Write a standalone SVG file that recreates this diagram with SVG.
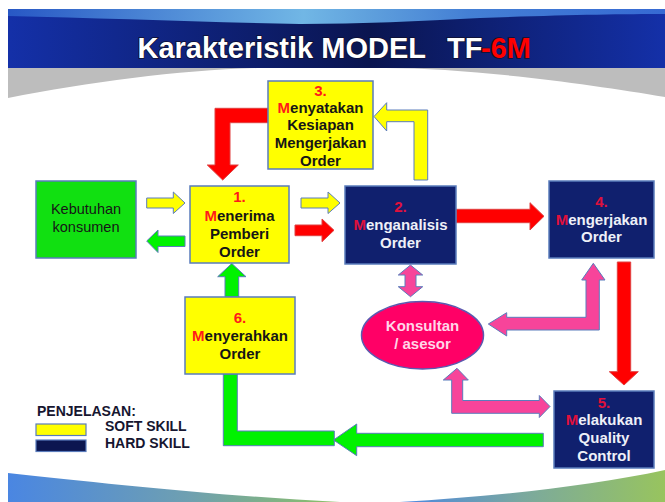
<svg xmlns="http://www.w3.org/2000/svg" width="665" height="502" viewBox="0 0 665 502">
<defs>
<linearGradient id="band" x1="0" y1="0" x2="1" y2="0">
<stop offset="0" stop-color="#1430a8"/><stop offset="0.55" stop-color="#0a1550"/><stop offset="1" stop-color="#1430a8"/>
</linearGradient>
<linearGradient id="sweep" x1="0" y1="0" x2="1" y2="0">
<stop offset="0" stop-color="#2a5cc8"/><stop offset="0.45" stop-color="#7cc8f4"/><stop offset="0.7" stop-color="#4a8ae0"/><stop offset="1" stop-color="#3a70d8"/>
</linearGradient>
<linearGradient id="botL" x1="8" y1="0" x2="340" y2="0" gradientUnits="userSpaceOnUse">
<stop offset="0" stop-color="#4a86e2"/><stop offset="0.55" stop-color="#6fa0b0"/><stop offset="1" stop-color="#8cc064"/>
</linearGradient>
<linearGradient id="botR" x1="400" y1="0" x2="665" y2="0" gradientUnits="userSpaceOnUse">
<stop offset="0" stop-color="#4a86e2"/><stop offset="0.45" stop-color="#7aa8a0"/><stop offset="1" stop-color="#98c45e"/>
</linearGradient>
<style>
.box{stroke:#5a7cbc;stroke-width:1.5}
.soft{fill:#ffff00}
.hard{fill:#10206e}
.t{font-family:"Liberation Sans",Arial,sans-serif;font-weight:bold;font-size:15px;text-anchor:middle}
.ttl{font-family:"Liberation Sans",Arial,sans-serif;font-weight:bold;font-size:29px;stroke:#101030;stroke-width:1.6px;paint-order:stroke}
.dk{fill:#161616}
.wt{fill:#eef0f8}
.rd{fill:#ff1a1a}
.cr{fill:#e0103c}
.ar{stroke:#5a7cbc;stroke-width:1;stroke-linejoin:miter}
.y{fill:#ffff00}
.g{fill:#00f200}
.r{fill:#ff0000;stroke:#e04040}
.p{fill:#f7449a}
.lg{font-family:"Liberation Sans",Arial,sans-serif;font-weight:bold;font-size:14px;fill:#161630}
</style>
</defs>
<rect width="665" height="502" fill="#ffffff"/>
<!-- title band -->
<rect x="8" y="9" width="657" height="59" fill="url(#band)"/>
<path d="M8,9 H665 V14 C620,14 560,15 480,18 C420,21 360,24 300,24 C200,22 100,18 8,16 Z" fill="url(#sweep)" opacity="0.9"/>
<path d="M8,68 H665 V97 C590,84 470,68 385,68 H260 C180,70 90,82 8,98 Z" fill="#bdbdbd"/>
<text class="ttl" x="137.5" y="58" fill="#ffffff">Karakteristik MODEL</text>
<text class="ttl" x="447" y="58" fill="#ffffff">TF</text>
<text class="ttl" x="481" y="58" fill="#ff0000">-6M</text>
<!-- bottom sweeps -->
<path d="M8,473 C100,483 220,496 340,502 H8 Z" fill="url(#botL)"/>
<path d="M400,502 C500,496 590,486 665,470 V502 Z" fill="url(#botR)"/>

<!-- connectors -->
<g id="connectors">
<polygon class="ar y" points="146.7,198 173.3,198 173.3,192 185,203 173.3,213.5 173.3,208 146.7,208"/>
<polygon class="ar g" points="185,236 158,236 158,230 146.7,241 158,252.5 158,246.5 185,246.5"/>
<polygon class="ar y" points="301,198 328,198 328,192 340,203 328,213.5 328,208 301,208"/>
<polygon class="ar r" points="295,225 322,225 322,219 334,230.3 322,241.7 322,235.7 295,235.7"/>
<polygon class="ar r" points="456,209.3 530,209.3 530,202.7 544,216.3 530,230 530,222.7 456,222.7"/>
<polygon class="ar r" points="268,108.3 215,108.3 215,165 207.3,165 222.7,180 238.3,165 230,165 230,122.7 268,122.7"/>
<polygon class="ar y" points="414,180 414,121.7 386.7,121.7 386.7,131 374,116.5 386.7,102.7 386.7,110 427.7,110 427.7,180"/>
<polygon class="ar g" points="225,296.7 225,276.7 217.7,276.7 231.8,263.5 246,276.7 238.7,276.7 238.7,296.7"/>
<polygon class="ar g" points="237.3,374 237.3,431 334.3,431 334.3,445.7 223.3,445.7 223.3,374"/>
<polygon class="ar g" points="543.3,433.3 356.7,433.3 356.7,424 333.5,440 356.7,455.7 356.7,446.7 543.3,446.7"/>
<polygon class="ar r" points="617.3,262 630.7,262 630.7,371.7 638.3,371.7 624,385 609.3,371.7 617.3,371.7"/>
<polygon class="ar p" points="410.5,265 422.7,275 416,275 416,286.7 422.7,286.7 410.5,296.7 398.3,286.7 405,286.7 405,275 398.3,275"/>
<polygon class="ar p" points="488.3,324 506.7,312.7 506.7,317.3 586,317.3 586,280 581.7,280 593.3,263.3 605,280 599.3,280 599.3,330 506.7,330 506.7,336"/>
<polygon class="ar p" points="457,368.3 468.3,380 462.7,380 462.7,400.5 539.3,400.5 539.3,395.5 550,406.5 539.3,417.5 539.3,413.3 451.7,413.3 451.7,380 443.3,380"/>
</g>

<!-- nodes -->
<g id="kebutuhan">
<rect class="box" x="36" y="181" width="100" height="77" fill="#11e011"/>
<text class="t dk" x="86" y="214" style="font-weight:normal;font-size:14.5px">Kebutuhan</text>
<text class="t dk" x="86" y="232" style="font-weight:normal;font-size:14.5px">konsumen</text>
</g>
<g id="node1">
<rect class="box soft" x="190" y="186" width="99" height="77"/>
<text class="t rd" x="239.5" y="202">1.</text>
<text class="t dk" x="239.5" y="221"><tspan class="rd">M</tspan>enerima</text>
<text class="t dk" x="239.5" y="238.5">Pemberi</text>
<text class="t dk" x="239.5" y="256.5">Order</text>
</g>
<g id="node3">
<rect class="box soft" x="268" y="81" width="105" height="88"/>
<text class="t rd" x="320.5" y="96">3.</text>
<text class="t dk" x="320.5" y="112.5"><tspan class="rd">M</tspan>enyatakan</text>
<text class="t dk" x="320.5" y="130">Kesiapan</text>
<text class="t dk" x="320.5" y="148">Mengerjakan</text>
<text class="t dk" x="320.5" y="166">Order</text>
</g>
<g id="node2">
<rect class="box hard" x="345" y="186" width="111" height="78"/>
<text class="t cr" x="400.5" y="212">2.</text>
<text class="t wt" x="400.5" y="229.5"><tspan class="cr">M</tspan>enganalisis</text>
<text class="t wt" x="400.5" y="247.5">Order</text>
</g>
<g id="node4">
<rect class="box hard" x="549" y="181" width="105" height="77"/>
<text class="t cr" x="601.5" y="207">4.</text>
<text class="t wt" x="601.5" y="224.5"><tspan class="cr">M</tspan>engerjakan</text>
<text class="t wt" x="601.5" y="242">Order</text>
</g>
<g id="node6">
<rect class="box soft" x="185" y="297" width="110" height="77"/>
<text class="t rd" x="240" y="323">6.</text>
<text class="t dk" x="240" y="341"><tspan class="rd">M</tspan>enyerahkan</text>
<text class="t dk" x="240" y="358.5">Order</text>
</g>
<g id="node5">
<rect class="box hard" x="554" y="391" width="100" height="77"/>
<text class="t cr" x="604" y="407.5">5.</text>
<text class="t wt" x="604" y="424.5"><tspan class="cr">M</tspan>elakukan</text>
<text class="t wt" x="604" y="442.5">Quality</text>
<text class="t wt" x="604" y="460.5">Control</text>
</g>
<g id="konsultan">
<ellipse cx="422.5" cy="335.3" rx="61" ry="33.7" fill="#ff0066" stroke="#5a5ab0" stroke-width="1.5"/>
<text class="t" x="422.5" y="331" fill="#ffd6e8">Konsultan</text>
<text class="t" x="422.5" y="349" fill="#ffd6e8">/ asesor</text>
</g>
<g id="legend">
<text class="lg" x="37" y="416">PENJELASAN:</text>
<rect x="36" y="424" width="50" height="11.5" fill="#ffff00" stroke="#5a7cbc" stroke-width="1.2"/>
<rect x="36" y="440" width="50" height="11.5" fill="#0c1650" stroke="#5a7cbc" stroke-width="1.2"/>
<text class="lg" x="105" y="430.5">SOFT SKILL</text>
<text class="lg" x="105" y="448">HARD SKILL</text>
</g>
</svg>
